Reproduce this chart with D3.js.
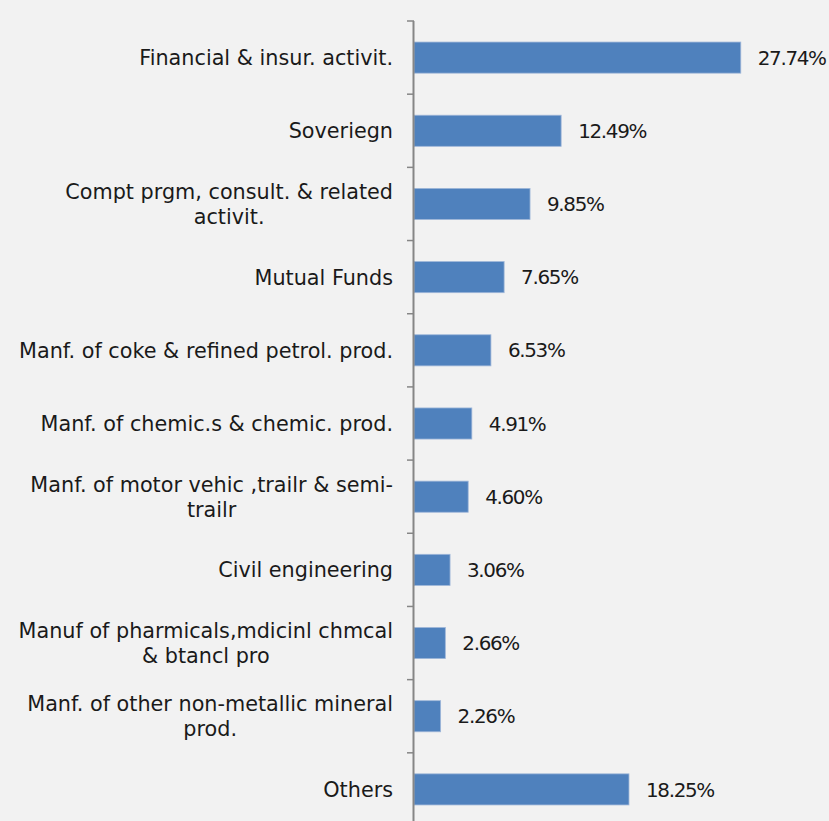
<!DOCTYPE html>
<html><head><meta charset="utf-8">
<script src="https://cdn.jsdelivr.net/npm/d3@7"></script>
<style>
html,body{margin:0;padding:0;background:#f2f2f2;}
svg{display:block;}
text{font-family:"DejaVu Sans",sans-serif;fill:#1a1a1a;}
</style></head>
<body>
<svg id="chart" width="829" height="821"></svg>
<script>
const categories = [
  ["Financial & insur. activit."],
  ["Soveriegn"],
  ["Compt prgm, consult. & related", "activit."],
  ["Mutual Funds"],
  ["Manf. of coke & refined petrol. prod."],
  ["Manf. of chemic.s & chemic. prod."],
  ["Manf. of motor vehic ,trailr & semi-", "trailr"],
  ["Civil engineering"],
  ["Manuf of pharmicals,mdicinl chmcal", "& btancl pro"],
  ["Manf. of other non-metallic mineral", "prod."],
  ["Others"]
];
const values = [27.74, 12.49, 9.85, 7.65, 6.53, 4.91, 4.60, 3.06, 2.66, 2.26, 18.25];
const valueLabels = ["27.74%","12.49%","9.85%","7.65%","6.53%","4.91%","4.60%","3.06%","2.66%","2.26%","18.25%"];

const svg = d3.select("#chart");
const axisX = 414;
const x = d3.scaleLinear().domain([0, 30]).range([axisX, axisX + 30 * 11.78]);
const keys = categories.map((c, i) => i);
const y = d3.scaleBand().domain(keys).range([21, 826]).paddingInner(0.575).paddingOuter(0.2875);

// font size fit
const probe = svg.append("text").style("font-size", "100px").text("Manf. of coke & refined petrol. prod.");
const w100 = probe.node().getComputedTextLength();
probe.remove();
const fs = 100 * 374 / w100;
const probe2 = svg.append("text").style("font-size", fs + "px").text("27.74%");
const vw = probe2.node().getComputedTextLength();
probe2.remove();
const vfs = fs * 0.96;
const ls = (68 - vw * 0.96) / 6;

// bars
svg.append("g").selectAll("rect").data(values).join("rect")
  .attr("x", x(0))
  .attr("y", (d, i) => y(i))
  .attr("width", d => x(d) - x(0))
  .attr("height", y.bandwidth())
  .attr("fill", "#4f81bd")
  .attr("stroke", "#9fb7d9")
  .attr("stroke-width", 0.8);

// axis
const step = y.step();
const tickPos = d3.range(categories.length + 1).map(i => 21 + i * step);
const ax = svg.append("g");
ax.append("line").attr("x1", axisX - 0.5).attr("x2", axisX - 0.5).attr("y1", 21).attr("y2", 826)
  .attr("stroke", "#868686").attr("stroke-width", 2);
ax.selectAll("line.t").data(tickPos).join("line").attr("class", "t")
  .attr("x1", axisX - 7).attr("x2", axisX).attr("y1", d => d).attr("y2", d => d)
  .attr("stroke", "#868686").attr("stroke-width", 1.5);

// category labels
const labelRight = 393;
const lineH = 25;
categories.forEach((lines, i) => {
  const cy = y(i) + y.bandwidth() / 2;
  const g = svg.append("g");
  const ts = lines.map((l, j) => g.append("text")
    .style("font-size", fs + "px")
    .attr("text-anchor", "middle")
    .attr("y", cy + (j - (lines.length - 1) / 2) * lineH)
    .attr("dy", "0.36em")
    .text(l));
  const maxW = d3.max(ts, t => t.node().getComputedTextLength());
  ts.forEach(t => t.attr("x", labelRight - maxW / 2));
});

// value labels
svg.append("g").selectAll("text").data(values).join("text")
  .style("font-size", vfs + "px")
  .style("letter-spacing", ls + "px")
  .attr("x", d => x(d) + 17)
  .attr("y", (d, i) => y(i) + y.bandwidth() / 2)
  .attr("dy", "0.36em")
  .text((d, i) => valueLabels[i]);
</script>
</body></html>
